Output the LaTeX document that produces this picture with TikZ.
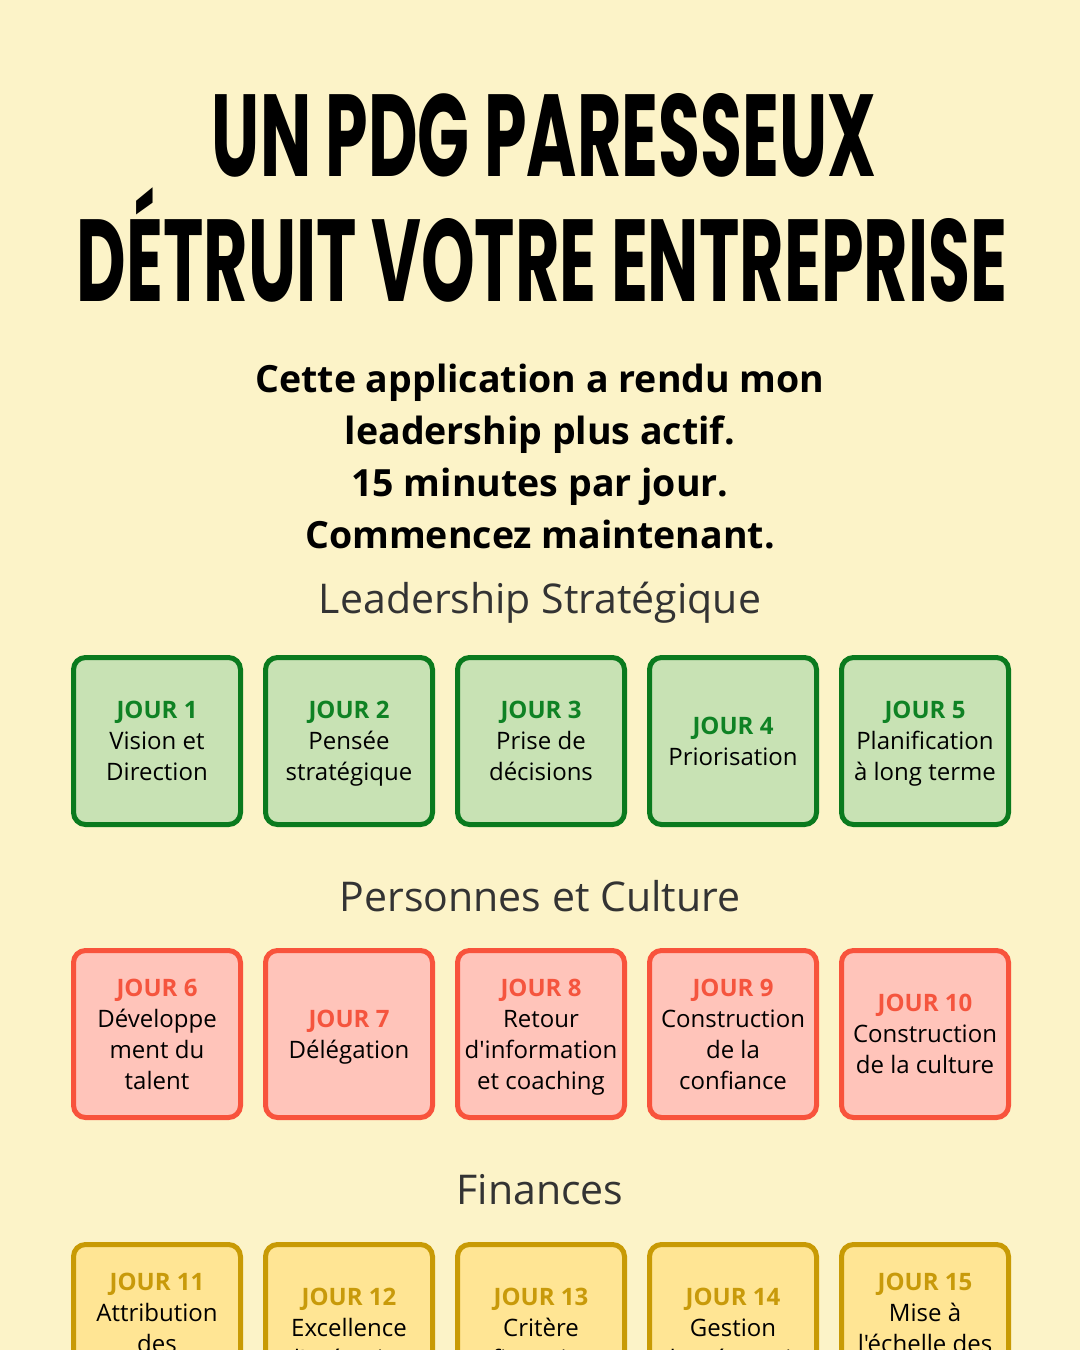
\documentclass[tikz,border=0pt]{standalone}
\usepackage{fontspec}
\IfFontExistsTF{Open Sans Bold}
  {\setmainfont{Open Sans}[Ligatures=TeXOff]}
  {\setmainfont{Noto Sans}[AutoFakeBold=2.5, Ligatures=TeXOff]}
\newfontfamily\titlefont{Poppins}[UprightFont={* Bold}]
\definecolor{bg}{HTML}{FCF3C8}
\definecolor{gborder}{HTML}{0A7A1E}
\definecolor{gfill}{HTML}{C8E2B4}
\definecolor{gtext}{HTML}{0F8224}
\definecolor{rborder}{HTML}{F8533C}
\definecolor{rfill}{HTML}{FFC4BA}
\definecolor{rtext}{HTML}{F5553E}
\definecolor{yborder}{HTML}{C89A05}
\definecolor{yfill}{HTML}{FFE594}
\definecolor{ytext}{HTML}{C89A0A}
\definecolor{sect}{HTML}{333333}
\tikzset{
  daybox/.style={line width=5pt, rounded corners=12pt, minimum width=167pt, minimum height=167pt,
    inner sep=0pt},
  gbox/.style={daybox, draw=gborder, fill=gfill},
  rbox/.style={daybox, draw=rborder, fill=rfill},
  ybox/.style={daybox, draw=yborder, fill=yfill},
  boxtext/.style={align=center, inner sep=0pt, text=black, font=\fontsize{24}{31}\selectfont},
  secttitle/.style={text=sect, font=\fontsize{41}{48}\selectfont, inner sep=0pt},
  titleline/.style={inner sep=0pt, anchor=base},
}
\newcommand{\gj}[1]{\textcolor{gtext}{\bfseries #1}}
\newcommand{\rj}[1]{\textcolor{rtext}{\bfseries #1}}
\newcommand{\yj}[1]{\textcolor{ytext}{\bfseries #1}}
\newcommand{\lastdepth}{\vphantom{g}}
% style, name, position, text
\newcommand{\dayitem}[4]{%
  \node[#1] (#2) at (#3) {};
  \node[boxtext] (#2-t) at ([yshift=-3pt]#2.center) {#4\lastdepth};}
\begin{document}
\begin{tikzpicture}[x=1pt,y=-1pt]
\useasboundingbox (0,0) rectangle (1080,1350);
\clip (0,0) rectangle (1080,1350);
\fill[bg] (0,0) rectangle (1080,1350);

% title
\node[titleline] (t1) at (544,176) {\resizebox{664pt}{83pt}{\titlefont UN PDG PARESSEUX}};
\node[titleline] (t2) at (542,301) {\resizebox{930pt}{83pt}{\titlefont D\smash{É}TRUIT VOTRE ENTREPRISE}};

% subtitle
\node[align=center, inner sep=0pt, font=\fontsize{37.5}{52}\selectfont\bfseries] (sub) at (540,456)
  {Cette application a rendu mon\\leadership plus actif.\\15 minutes par jour.\\Commencez maintenant.};

% sections
\node[secttitle] (s1) at (540,603) {Leadership Stratégique};
\node[secttitle] (s2) at (540,896) {Personnes et Culture};
\node[secttitle] (s3) at (540,1190) {Finances};

% row 1
\dayitem{gbox}{d1}{157,741}{\gj{JOUR 1}\\Vision et\\Direction}
\dayitem{gbox}{d2}{349,741}{\gj{JOUR 2}\\Pensée\\stratégique}
\dayitem{gbox}{d3}{541,741}{\gj{JOUR 3}\\Prise de\\décisions}
\dayitem{gbox}{d4}{733,741}{\gj{JOUR 4}\\Priorisation}
\dayitem{gbox}{d5}{925,741}{\gj{JOUR 5}\\Planification\\à long terme}

% row 2
\dayitem{rbox}{d6}{157,1034}{\rj{JOUR 6}\\Développe\\ment du\\talent}
\dayitem{rbox}{d7}{349,1034}{\rj{JOUR 7}\\Délégation}
\dayitem{rbox}{d8}{541,1034}{\rj{JOUR 8}\\Retour\\d'information\\et coaching}
\dayitem{rbox}{d9}{733,1034}{\rj{JOUR 9}\\Construction\\de la\\confiance}
\dayitem{rbox}{d10}{925,1034}{\rj{JOUR 10}\\Construction\\de la culture}

% row 3
\dayitem{ybox}{d11}{157,1328}{\yj{JOUR 11}\\Attribution\\des\\ressources}
\dayitem{ybox}{d12}{349,1328}{\yj{JOUR 12}\\Excellence\\d'exécution}
\dayitem{ybox}{d13}{541,1328}{\yj{JOUR 13}\\Critère\\financier}
\dayitem{ybox}{d14}{733,1328}{\yj{JOUR 14}\\Gestion\\de trésorerie}
\dayitem{ybox}{d15}{925,1328}{\yj{JOUR 15}\\Mise à\\l'échelle des\\opérations}
\end{tikzpicture}
\end{document}
